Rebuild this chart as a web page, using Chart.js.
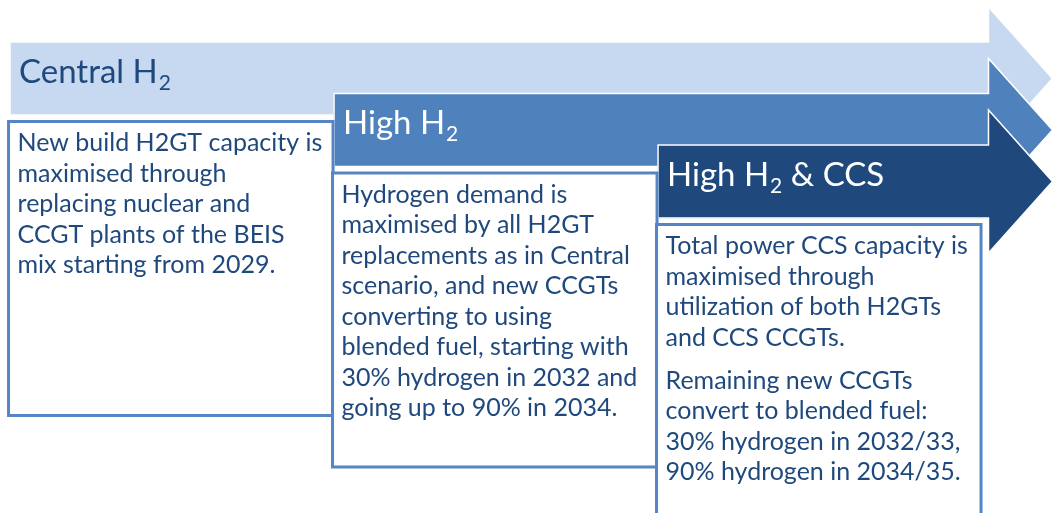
<!DOCTYPE html>
<html lang="en">
<head>
    <meta charset="UTF-8">
    <title>Hydrogen scenarios</title>
    <style>
        body {
            margin: 0;
            padding: 0;
            background-color: #ffffff;
        }
        .wrap {
            position: relative;
            width: 1052px;
            height: 513px;
        }
    </style>
</head>
<body>
    <div class="wrap">
        <canvas id="scenarioChart"></canvas>
    </div>

    <script src="https://cdn.jsdelivr.net/npm/chart.js"></script>
    <script>
        // scenario stages, in the order they build on each other
        const stages = [0, 1, 2];
        const horizon = 3.02;
        const titleMain = ['Central H', 'High H', 'High H'];
        const titleSub = ['2', '2', '2'];
        const titleTail = ['', '', ' & CCS'];
        const descriptions = [
            [['New build H2GT capacity is', 'maximised through', 'replacing nuclear and', 'CCGT plants of the BEIS', 'mix starting from 2029.']],
            [['Hydrogen demand is', 'maximised by all H2GT', 'replacements as in Central', 'scenario, and new CCGTs', 'converting to using', 'blended fuel, starting with', '30% hydrogen in 2032 and', 'going up to 90% in 2034.']],
            [['Total power CCS capacity is', 'maximised through', 'utilization of both H2GTs', 'and CCS CCGTs.'],
             ['Remaining new CCGTs', 'convert to blended fuel:', '30% hydrogen in 2032/33,', '90% hydrogen in 2034/35.']]
        ];

        const arrowColors = ['#c6d9f0', '#4f81bd', '#1f497d'];
        const titleColors = ['#1f497d', '#ffffff', '#ffffff'];
        const textColor = '#1f497d';
        const boxBorder = '#5585c5';
        const fontFamily = 'Lato, "Open Sans", sans-serif';

        const headLength = 64;
        const headHalf = 71.5;

        function arrowShape(ctx, bar) {
            const top = bar.y - bar.height / 2;
            const bottom = bar.y + bar.height / 2;
            ctx.beginPath();
            ctx.moveTo(bar.base, top);
            ctx.lineTo(bar.x, top);
            ctx.lineTo(bar.x, bar.y - headHalf);
            ctx.lineTo(bar.x + headLength, bar.y);
            ctx.lineTo(bar.x, bar.y + headHalf);
            ctx.lineTo(bar.x, bottom);
            ctx.lineTo(bar.base, bottom);
            ctx.closePath();
        }

        function drawTitle(ctx, i, x, y) {
            ctx.fillStyle = titleColors[i];
            ctx.textBaseline = 'alphabetic';
            ctx.font = '33px ' + fontFamily;
            ctx.fillText(titleMain[i], x, y);
            let w = ctx.measureText(titleMain[i]).width;
            ctx.font = '21px ' + fontFamily;
            ctx.fillText(titleSub[i], x + w + 1, y + 7);
            w += ctx.measureText(titleSub[i]).width + 1;
            ctx.font = '33px ' + fontFamily;
            ctx.fillText(titleTail[i], x + w, y);
        }

        const arrowPlugin = {
            id: 'arrows',
            afterDatasetDraw(chart, args) {
                const ctx = chart.ctx;
                const i = args.index;
                const bar = chart.getDatasetMeta(i).data[0];
                ctx.save();
                arrowShape(ctx, bar);
                ctx.fillStyle = arrowColors[i];
                ctx.fill();
                ctx.lineWidth = 1.5;
                ctx.strokeStyle = '#ffffff';
                ctx.stroke();
                drawTitle(ctx, i, bar.base + 9, bar.y - bar.height / 2 + 41);
                ctx.restore();
            },
            afterDatasetsDraw(chart) {
                const ctx = chart.ctx;
                const xs = chart.scales.x;
                ctx.save();
                stages.forEach((s, i) => {
                    const bar = chart.getDatasetMeta(i).data[0];
                    const left = xs.getPixelForValue(s) - 1.5;
                    const width = 324.5;
                    const top = bar.y + bar.height / 2 + 6.5;
                    ctx.fillStyle = '#ffffff';
                    ctx.fillRect(left, top, width, 294);
                    ctx.lineWidth = 3;
                    ctx.strokeStyle = boxBorder;
                    ctx.strokeRect(left, top, width, 294);

                    ctx.fillStyle = textColor;
                    ctx.font = '25px ' + fontFamily;
                    let y = top + 30;
                    descriptions[i].forEach((para, p) => {
                        if (p > 0) y += 12.5;
                        para.forEach(line => {
                            ctx.fillText(line, left + 9, y);
                            y += 30.5;
                        });
                    });
                });
                ctx.restore();
            }
        };

        const datasets = stages.map((s, i) => ({
            label: titleMain[i] + titleSub[i] + titleTail[i],
            data: [{ x: [s, horizon], y: s }],
            backgroundColor: arrowColors[i],
            borderWidth: 0,
            barThickness: 73,
            grouped: false,
            order: stages.length - i
        }));

        new Chart(document.getElementById('scenarioChart'), {
            type: 'bar',
            data: { datasets: datasets },
            options: {
                indexAxis: 'y',
                responsive: true,
                maintainAspectRatio: false,
                animation: false,
                layout: { padding: 0 },
                plugins: {
                    legend: { display: false },
                    tooltip: { enabled: false }
                },
                scales: {
                    x: { type: 'linear', min: -0.031, max: 3.216, display: false },
                    y: { type: 'linear', min: -1.524, max: 8.437, reverse: true, offset: false, display: false }
                }
            },
            plugins: [arrowPlugin]
        });
    </script>
</body>
</html>
